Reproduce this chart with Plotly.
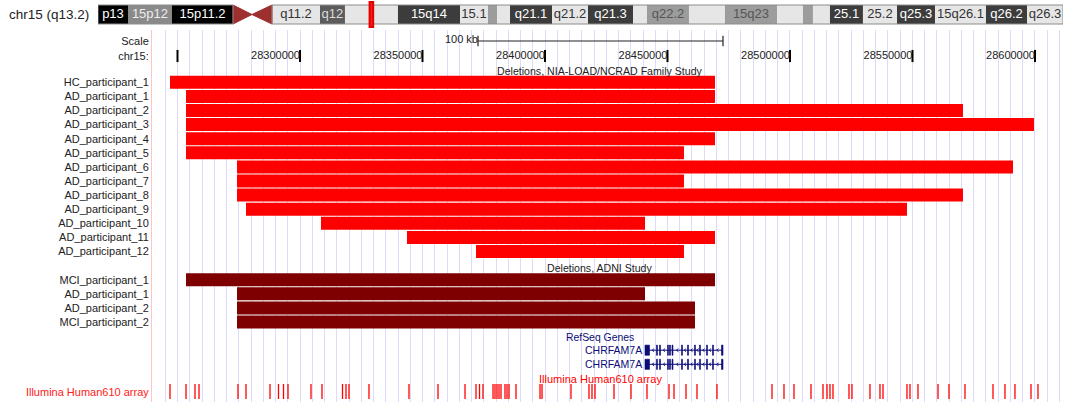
import plotly.graph_objects as go

FONT = "Liberation Sans, Arial, sans-serif"

# ---------------- data ----------------
# browser window on chr15 (bp)
win_start = 28239590
win_end = 28612250
chr_len_mb = 100.34

# Deletions, NIA-LOAD/NCRAD Family Study
nia_names = ["HC_participant_1", "AD_participant_1", "AD_participant_2", "AD_participant_3",
             "AD_participant_4", "AD_participant_5", "AD_participant_6", "AD_participant_7",
             "AD_participant_8", "AD_participant_9", "AD_participant_10", "AD_participant_11",
             "AD_participant_12"]
nia_start = [28246940, 28253470, 28253470, 28253470, 28253470, 28253470, 28274290,
             28274290, 28274290, 28277960, 28308570, 28343670, 28371840]
nia_end = [28469390, 28469390, 28570610, 28599590, 28469390, 28456730, 28591020,
           28456730, 28570610, 28547750, 28440820, 28469390, 28456730]

# Deletions, ADNI Study
adni_names = ["MCI_participant_1", "AD_participant_1", "AD_participant_2", "MCI_participant_2"]
adni_start = [28253470, 28274290, 28274290, 28274290]
adni_end = [28469390, 28440820, 28461220, 28461220]

# ruler
ruler_ticks = [28250000, 28300000, 28350000, 28400000, 28450000, 28500000, 28550000, 28600000]
ruler_labels = ["", "28300000", "28350000", "28400000", "28450000", "28500000", "28550000", "28600000"]
scale_bar = [28372650, 28472650]
scale_text = "100 kb"

# RefSeq genes (minus strand)
gene_names = ["CHRFAM7A", "CHRFAM7A"]
gene_start = [28440820, 28440820]
gene_end = [28472650, 28472650]
exon_starts = [28440820, 28445500, 28446740, 28450000, 28450820, 28451840, 28455720,
               28458170, 28461020, 28463060, 28465920, 28468370, 28472040]
exon_ends = [28442650, 28445900, 28447140, 28450400, 28451220, 28452240, 28456120,
             28458570, 28461420, 28463460, 28466320, 28468770, 28472650]

# Illumina Human610 array probe positions
snp_pos = [28246940, 28253470, 28257140, 28258780, 28274690, 28277960, 28287760, 28291220,
           28293270, 28295100, 28304490, 28308980, 28317350, 28318780, 28320000, 28328160,
           28344490, 28356330, 28367350, 28371840, 28373270, 28374690, 28378780, 28379590,
           28380410, 28381220, 28382040, 28383670, 28384490, 28385310, 28388160, 28397960,
           28398780, 28410610, 28417960, 28419180, 28420410, 28428160, 28435100, 28441630,
           28450610, 28452650, 28457550, 28462040, 28470200, 28492650, 28497550, 28501630,
           28508570, 28513470, 28515100, 28516320, 28517550, 28524080, 28525300, 28532650,
           28536730, 28537960, 28547750, 28548980, 28552240, 28560410, 28564900, 28571430,
           28582860, 28587750, 28591830, 28598370, 28601220]

# chromosome 15 ideogram (Mb)
band_start = [0.0, 3.12, 7.69, 18.09, 23.08, 25.68, 31.19, 37.64, 40.55, 41.49, 42.84, 47.21,
              50.95, 55.63, 57.08, 61.45, 65.19, 70.60, 73.30, 74.34, 76.11, 79.54, 83.08,
              87.03, 92.33, 96.60]
band_end = [3.12, 7.69, 14.04, 23.08, 25.68, 31.19, 37.64, 40.55, 41.49, 42.84, 47.21, 50.95,
            55.63, 57.08, 61.45, 65.19, 70.60, 73.30, 74.34, 76.11, 79.54, 83.08, 87.03,
            92.33, 96.60, 100.34]
band_stain = ["gvar", "stalk", "gvar", "gneg", "gpos75", "gneg", "gpos100", "gneg", "gpos50",
              "gneg", "gpos100", "gneg", "gpos100", "gneg", "gpos50", "gneg", "gpos50", "gneg",
              "gpos50", "gneg", "gpos100", "gneg", "gpos100", "gneg", "gpos100", "gneg"]
band_label = ["p13", "15p12", "15p11.2", "q11.2", "q12", "", "15q14", "15.1", "", "", "q21.1",
              "q21.2", "q21.3", "", "q22.2", "", "15q23", "", "", "", "25.1", "25.2", "q25.3",
              "15q26.1", "q26.2", "q26.3"]
centromere = [14.04, 16.01, 18.09]
chrom_title = "chr15 (q13.2)"

# ---------------- styles ----------------
stain_fill = {"gvar": "#000000", "stalk": "#8a8a8a", "gneg": "#e6e6e6", "gpos50": "#9c9c9c",
              "gpos75": "#5c5c5c", "gpos100": "#3c3c3c"}
stain_text = {"gvar": "#ffffff", "stalk": "#eeeeee", "gneg": "#333333", "gpos50": "#555555",
              "gpos75": "#dddddd", "gpos100": "#ffffff"}
NAVY = "#0c0c78"

# row layout (row units on main y axis)
nia_rows = list(range(len(nia_names)))
adni_label_row = len(nia_names) + 0.15
adni_rows = [len(nia_names) + 1 + i for i in range(len(adni_names))]
refseq_row = adni_rows[-1] + 1.13
gene_rows = [adni_rows[-1] + 2 + i for i in range(len(gene_names))]
ill_label_row = gene_rows[-1] + 1.04
snp_row = gene_rows[-1] + 1.96
scale_row = -2.93
pos_row = -1.865
nia_label_row = -0.8

fig = go.Figure()

# deletion bars
fig.add_trace(go.Bar(orientation="h", y=nia_rows, base=nia_start,
                     x=[e - s for s, e in zip(nia_start, nia_end)], width=0.92,
                     marker=dict(color="#ff0000", line=dict(width=0)), hoverinfo="skip"))
fig.add_trace(go.Bar(orientation="h", y=adni_rows, base=adni_start,
                     x=[e - s for s, e in zip(adni_start, adni_end)], width=0.92,
                     marker=dict(color="#7f0000", line=dict(width=0)), hoverinfo="skip"))

# ruler ticks
tx, ty = [], []
for t in ruler_ticks:
    tx += [t, t, None]
    ty += [pos_row - 0.43, pos_row + 0.43, None]
fig.add_trace(go.Scatter(x=tx, y=ty, mode="lines", line=dict(color="#000000", width=2),
                         hoverinfo="skip", cliponaxis=False))
fig.add_trace(go.Scatter(x=ruler_ticks, y=[pos_row] * len(ruler_ticks), mode="text",
                         text=ruler_labels, textposition="middle left",
                         textfont=dict(family=FONT, size=11, color="#222222"),
                         hoverinfo="skip", cliponaxis=False))
# scale bar
sx = [scale_bar[0], scale_bar[1], None, scale_bar[0], scale_bar[0], None, scale_bar[1], scale_bar[1]]
sy = [scale_row, scale_row, None, scale_row - 0.38, scale_row + 0.38, None, scale_row - 0.38, scale_row + 0.38]
fig.add_trace(go.Scatter(x=sx, y=sy, mode="lines", line=dict(color="#222222", width=1.2),
                         hoverinfo="skip", cliponaxis=False))
fig.add_trace(go.Scatter(x=[scale_bar[0]], y=[scale_row - 0.07], mode="text", text=[scale_text],
                         textposition="middle left",
                         textfont=dict(family=FONT, size=11, color="#222222"),
                         hoverinfo="skip", cliponaxis=False))

# genes
for gi, row in enumerate(gene_rows):
    fig.add_trace(go.Scatter(x=[gene_start[gi], gene_end[gi]], y=[row, row], mode="lines",
                             line=dict(color=NAVY, width=1), hoverinfo="skip"))
    fig.add_trace(go.Bar(orientation="h", y=[row] * len(exon_starts), base=exon_starts,
                         x=[e - s for s, e in zip(exon_starts, exon_ends)], width=0.72,
                         marker=dict(color=NAVY, line=dict(color=NAVY, width=0.6)),
                         hoverinfo="skip"))
    cx, cy = [], []
    for k in range(len(exon_starts) - 1):
        g0, g1 = exon_ends[k], exon_starts[k + 1]
        if g1 - g0 > 1500:
            m = (g0 + g1) / 2
            cx += [m + 450, m - 350, m + 450, None]
            cy += [row - 0.11, row, row + 0.11, None]
    fig.add_trace(go.Scatter(x=cx, y=cy, mode="lines", line=dict(color=NAVY, width=0.9),
                             hoverinfo="skip"))
    fig.add_annotation(x=gene_start[gi], y=row, text=gene_names[gi], showarrow=False,
                       xanchor="right", xshift=-1, font=dict(family=FONT, size=10.5, color=NAVY))

# SNP probes
px_, py_ = [], []
for p in snp_pos:
    px_ += [p, p, None]
    py_ += [snp_row - 0.56, snp_row + 0.5, None]
fig.add_trace(go.Scatter(x=px_, y=py_, mode="lines", line=dict(color="#ff0000", width=1.3),
                         hoverinfo="skip"))

# centre labels
def centre_label(row, text, color, size=11):
    fig.add_annotation(xref="paper", x=600 / 1065, y=row, yref="y", text=text, showarrow=False,
                       xanchor="center", font=dict(family=FONT, size=size, color=color))

centre_label(nia_label_row, "Deletions, NIA-LOAD/NCRAD Family Study", "#222222", 10.6)
centre_label(adni_label_row, "Deletions, ADNI Study", "#222222", 10.6)
centre_label(refseq_row, "RefSeq Genes", NAVY, 10.4)
centre_label(ill_label_row, "Illumina Human610 array", "#ff0000", 11)

# ideogram
fig.add_trace(go.Bar(orientation="h", y=[14.5] * len(band_start), base=band_start,
                     x=[e - s for s, e in zip(band_start, band_end)], width=19,
                     marker=dict(color=[stain_fill[s] for s in band_stain], line=dict(width=0)),
                     xaxis="x2", yaxis="y2", hoverinfo="skip"))
for xs in ([centromere[0], centromere[0], centromere[1], centromere[0]],
           [centromere[2], centromere[2], centromere[1], centromere[2]]):
    fig.add_trace(go.Scatter(x=xs, y=[5, 24, 14.5, 5], fill="toself", mode="lines",
                             fillcolor="#9e2f2f", line=dict(color="#9e2f2f", width=1),
                             xaxis="x2", yaxis="y2", hoverinfo="skip"))
fig.add_trace(go.Scatter(x=[(s + e) / 2 for s, e in zip(band_start, band_end)],
                         y=[14.5] * len(band_start), mode="text", text=band_label,
                         textfont=dict(family=FONT, size=13,
                                       color=[stain_text[s] for s in band_stain]),
                         xaxis="x2", yaxis="y2", hoverinfo="skip", cliponaxis=False))
# arm outlines
for a0, a1 in ((band_start[0], centromere[0]), (centromere[2], band_end[-1])):
    fig.add_shape(type="rect", xref="x2", yref="y2", x0=a0, x1=a1, y0=5, y1=24,
                  line=dict(color="#8c8c8c", width=1), fillcolor="rgba(0,0,0,0)")
# position marker
fig.add_shape(type="rect", xref="x2", yref="y2", x0=win_start / 1e6, x1=win_end / 1e6,
              y0=2, y1=27, line=dict(color="#e00000", width=2), fillcolor="#ff1a1a")
fig.add_annotation(xref="paper", yref="paper", x=7 / 1065, y=1 - 14.5 / 402, text=chrom_title,
                   showarrow=False, xanchor="left", yanchor="middle",
                   font=dict(family=FONT, size=13.5, color="#222222"))

# left labels via y axis ticks
tickvals = [scale_row, pos_row] + nia_rows + adni_rows + [snp_row]
ticktext = (["Scale", "chr15:"] + nia_names + adni_names
            + ['<span style="color:#ff2020">Illumina Human610 array</span>'])

top_px = 30
row0_px, row_h = 82.3, 14.1
y_top = (top_px - row0_px) / row_h
y_bot = (402 - row0_px) / row_h

fig.update_layout(
    width=1065, height=402, autosize=False,
    margin=dict(l=0, r=0, t=0, b=0),
    paper_bgcolor="#ffffff", plot_bgcolor="#ffffff",
    showlegend=False, barmode="overlay",
    xaxis=dict(domain=[152 / 1065, 1], range=[win_start, win_end], showgrid=True,
               gridcolor="#dcdcfa", gridwidth=1, tick0=0, dtick=5000, showticklabels=False,
               ticks="", zeroline=False, showline=False, fixedrange=True),
    yaxis=dict(domain=[0, 1 - top_px / 402], range=[y_bot, y_top], tickvals=tickvals,
               ticktext=ticktext, ticks="", showgrid=False, zeroline=False, showline=True,
               linecolor="#ffc4c4", linewidth=1, fixedrange=True,
               tickfont=dict(family=FONT, size=11, color="#222222")),
    xaxis2=dict(domain=[98 / 1065, 1063 / 1065], range=[0, chr_len_mb], visible=False,
                anchor="y2", fixedrange=True),
    yaxis2=dict(domain=[1 - top_px / 402, 1], range=[30, 0], visible=False, anchor="x2",
                fixedrange=True),
)

fig.write_html("out.html", config={"displayModeBar": False},
               post_script="document.body.style.margin='0';document.body.style.padding='0';")
